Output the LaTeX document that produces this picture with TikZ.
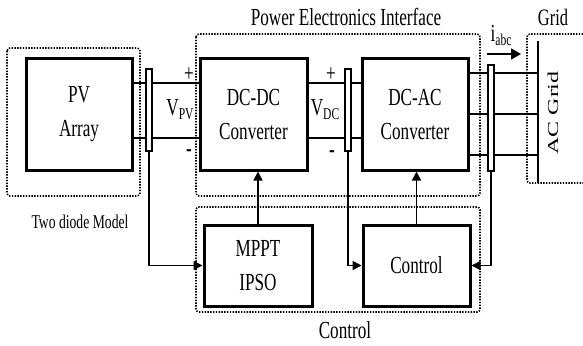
\documentclass[tikz,border=0pt]{standalone}
\usepackage{fontspec}
\setmainfont{Liberation Serif}[FakeStretch=0.7]
\usetikzlibrary{arrows.meta}
\newcommand{\subtxt}[1]{\raisebox{-4pt}{\fontsize{16.5}{16.5}\selectfont #1}}
\begin{document}
\begin{tikzpicture}[x=1pt,y=-1pt,
    block/.style={draw,line width=3pt,minimum width=106pt,minimum height=111pt,align=center,font=\fontsize{24.5}{34}\selectfont},
    ctrlblock/.style={block,minimum height=81pt},
    bar/.style={draw,fill=white,line width=1.6pt,minimum width=6pt,inner sep=0pt},
    wire/.style={line width=1.6pt},
    sig/.style={wire,-{Triangle[length=9pt,width=9pt]}},
    zone/.style={line width=1.6pt,dash pattern=on 1.4pt off 1.4pt,rounded corners=3pt},
    lbl/.style={font=\fontsize{24.5}{24.5}\selectfont,inner sep=0pt}]
  \useasboundingbox (0,0) rectangle (583,345);
  \draw[zone] (7,48) rectangle (140,196);
  \draw[zone] (196,34) rectangle (480,196);
  \draw[zone] (196,207) rectangle (480,312);
  \draw[zone] (583,34) -| (527,183) -- (583,183);
  \node[block] (pv) at (79,114.5) {PV\\Array};
  \node[block,minimum width=107pt] (dcdc) at (253.5,114.5) {DC-DC\\Converter};
  \node[block] (dcac) at (415,114.5) {DC-AC\\Converter};
  \node[ctrlblock,minimum width=108pt] (mppt) at (258,265.5) {MPPT\\IPSO};
  \node[ctrlblock,minimum width=107pt] (ctrl) at (416.5,265.5) {Control};
  \coordinate (hi) at (0,83);
  \coordinate (lo) at (0,138);
  \coordinate (gtop) at (538,41);
  \coordinate (gbot) at (538,183);
  \draw[wire] (pv.east |- hi) -- (dcdc.west |- hi);
  \draw[wire] (pv.east |- lo) -- (dcdc.west |- lo);
  \draw[wire] (dcdc.east |- hi) -- (dcac.west |- hi);
  \draw[wire] (dcdc.east |- lo) -- (dcac.west |- lo);
  \draw[wire] (gtop) -- (gbot);
  \foreach \y in {73,114,155} { \draw[wire] (dcac.east |- 0,\y) -- (gtop |- 0,\y); }
  \node[bar,minimum height=82pt] (bar1) at (149,110) {};
  \node[bar,minimum height=82pt] (bar2) at (348,110) {};
  \node[bar,minimum height=106pt] (bar3) at (491,118) {};
  \draw[sig] (bar1.south) |- (mppt.west);
  \draw[sig] (bar2.south) |- (ctrl.west);
  \draw[sig] (bar3.south) |- (ctrl.east);
  \draw[sig] (mppt.north) -- (mppt.north |- dcdc.south);
  \draw[sig] (ctrl.north) -- (ctrl.north |- dcac.south);
  \coordinate (ia) at (487,54);
  \coordinate (ib) at (521,54);
  \draw[wire,-{Triangle[length=10pt,width=11pt]}] (ia) -- (ib);
  \node[lbl] (iabc) at (501,35) {i\subtxt{abc}};
  \node[lbl] (pei) at (346,17) {Power Electronics Interface};
  \node[lbl,font=\fontsize{23.5}{23.5}\selectfont] (gridlbl) at (553,17) {Grid};
  \node[lbl,font=\fontsize{19.5}{19.5}\selectfont] (tdm) at (80,222) {Two diode Model};
  \node[lbl] (ctrllbl) at (345,330) {Control};
  \node[lbl] (vpv) at (180,110) {V\subtxt{PV}};
  \node[lbl] (vdc) at (325,110) {V\subtxt{DC}};
  \node[lbl] (pvplus) at (189,75) {+};
  \node[lbl] (pvminus) at (189,153) {\textbf{-}};
  \node[lbl] (dcplus) at (331,75) {+};
  \node[lbl] (dcminus) at (332,154) {\textbf{-}};
  \node[lbl,rotate=90] (acgrid) at (553,113) {\scalebox{1.4}[0.62]{AC Grid}};
\end{tikzpicture}
\end{document}
